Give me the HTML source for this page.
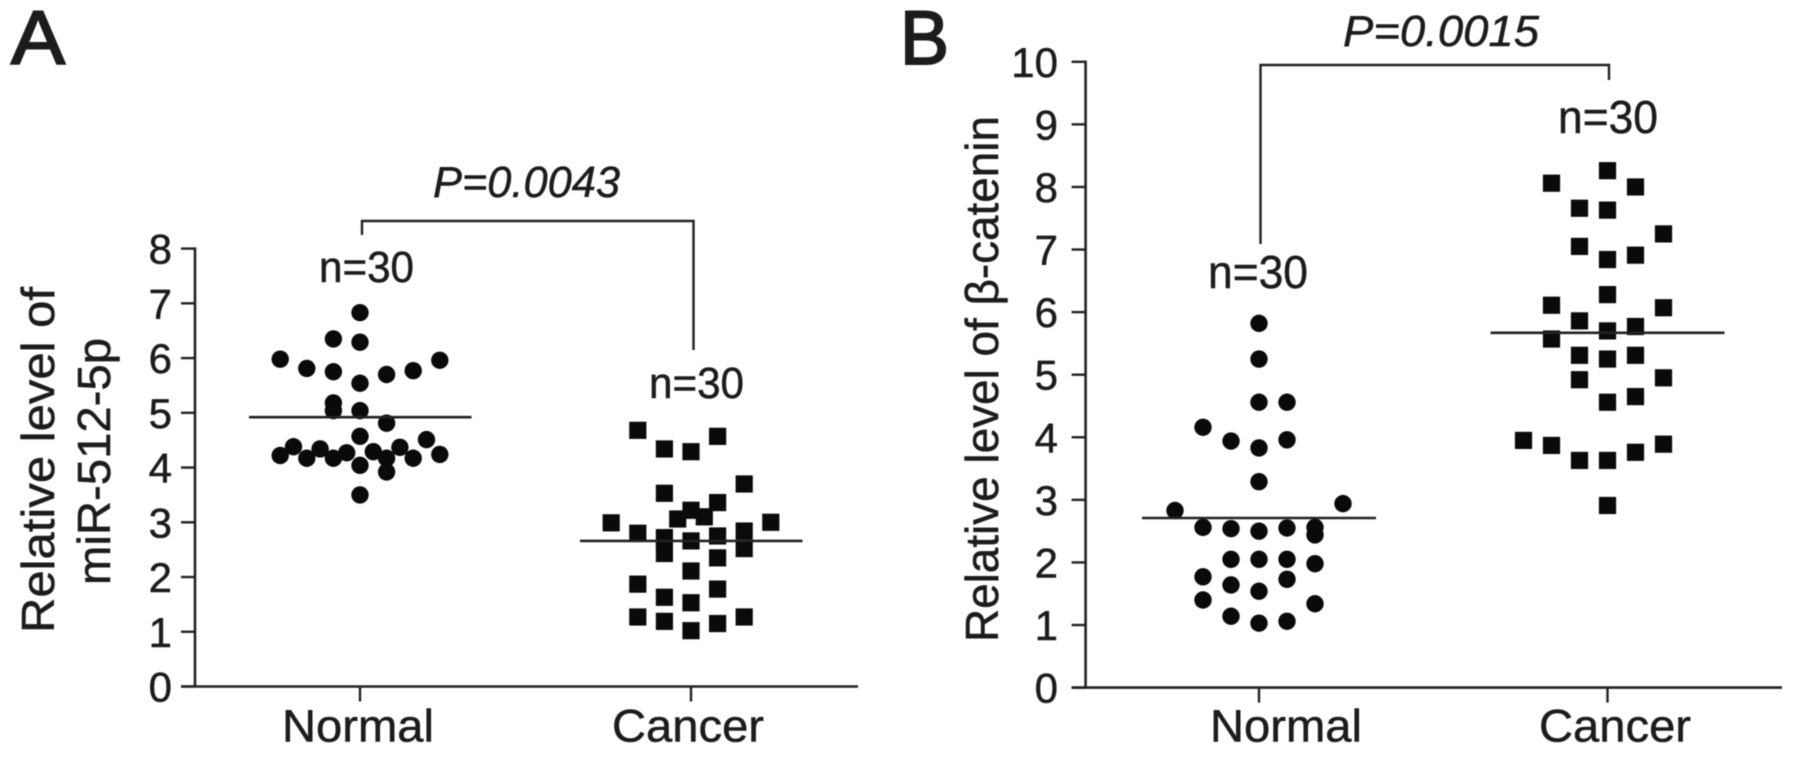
<!DOCTYPE html>
<html lang="en">
<head>
<meta charset="utf-8">
<title>miR-512-5p and β-catenin levels</title>
<style>
html,body{margin:0;padding:0;background:#fff;width:1795px;height:757px;overflow:hidden}
svg{display:block;filter:blur(0.6px)}
text{font-family:"Liberation Sans",sans-serif;fill:#1c1c1c;stroke:#1c1c1c;stroke-width:0.5px}
</style>
</head>
<body>
<svg id="figure" xmlns="http://www.w3.org/2000/svg" width="1795" height="757" viewBox="0 0 1795 757">
  <rect width="1795" height="757" fill="#fff"/>
  <text x="11" y="64" font-size="76" textLength="54" lengthAdjust="spacingAndGlyphs" style="stroke-width:2px">A</text>
  <text x="900" y="64" font-size="76" textLength="49" lengthAdjust="spacingAndGlyphs" style="stroke-width:2px">B</text>

  <text transform="translate(54,633) rotate(-90)" font-size="46" textLength="346" lengthAdjust="spacingAndGlyphs">Relative level of</text>
  <text transform="translate(110,585) rotate(-90)" font-size="46" textLength="247" lengthAdjust="spacingAndGlyphs">miR-512-5p</text>
  <text transform="translate(998,642) rotate(-90)" font-size="46" textLength="526" lengthAdjust="spacingAndGlyphs">Relative level of β-catenin</text>

  <text x="433" y="197" font-size="44" font-style="italic" textLength="187" lengthAdjust="spacingAndGlyphs">P=0.0043</text>
  <text x="1343" y="46" font-size="44" font-style="italic" textLength="196" lengthAdjust="spacingAndGlyphs">P=0.0015</text>

  <text x="319" y="282" font-size="44" textLength="95" lengthAdjust="spacingAndGlyphs">n=30</text>
  <text x="649" y="398" font-size="44" textLength="95" lengthAdjust="spacingAndGlyphs">n=30</text>
  <text x="1208" y="288" font-size="46" textLength="100" lengthAdjust="spacingAndGlyphs">n=30</text>
  <text x="1558" y="133" font-size="46" textLength="100" lengthAdjust="spacingAndGlyphs">n=30</text>

  <polyline points="362,235 362,221 693.5,221 693.5,350" fill="none" stroke="#222" stroke-width="2.4"/>
  <polyline points="1260.5,244 1260.5,65 1609,65 1609,80" fill="none" stroke="#222" stroke-width="2.4"/>

  <g id="panel-a"></g>
  <g id="panel-b"></g>
</svg>
<script>
const categories = ['Normal', 'Cancer'];

const aTicks = [0, 1, 2, 3, 4, 5, 6, 7, 8];
const aNormalValues = [6.83, 6.35, 6.29, 5.98, 5.96, 5.81, 5.75, 5.77, 5.70, 5.54, 5.18, 5.04, 5.04, 4.81, 4.57, 4.51, 4.38, 4.34, 4.27, 4.29, 4.37, 4.22, 4.24, 4.17, 4.17, 4.17, 4.17, 4.04, 3.92, 3.50];
const aNormalJitter = [0, -1, 0, -3, 3, -2, -1, 2, 1, 0, -1, -1, 0, 1, 0, 2.5, -2.5, -1.5, -0.5, 0.5, 1.5, -3, 3, -2, -1, 1, 2, 0, 1, 0];
const aCancerValues = [4.68, 4.57, 4.34, 4.29, 3.70, 3.53, 3.36, 3.22, 3.06, 3.10, 2.99, 3.00, 2.80, 2.84, 2.72, 2.75, 2.66, 2.43, 2.52, 2.35, 2.11, 1.87, 1.78, 1.63, 1.53, 1.27, 1.27, 1.19, 1.15, 1.02];
const aCancerJitter = [-2, 1, -1, 0, 2, -1, 1, 0, -0.5, 0.5, -3, 3, -2, 2, -1, 1, 0, -1, 2, 1, 0, -2, 1, -1, 0, -2, 2, -1, 1, 0];
const aMedians = [4.92, 2.66];

const bTicks = [0, 1, 2, 3, 4, 5, 6, 7, 8, 9, 10];
const bNormalValues = [5.82, 5.25, 4.56, 4.56, 4.16, 3.94, 3.96, 3.83, 3.29, 2.94, 2.83, 2.56, 2.54, 2.50, 2.55, 2.56, 2.44, 2.05, 2.05, 2.05, 1.98, 1.77, 1.73, 1.64, 1.54, 1.40, 1.34, 1.14, 1.06, 1.03];
const bNormalJitter = [0, 0, 0, 1, -2, -1, 1, 0, 0, 3, -3, -2, -1, 0, 1, 2, 2, -1, 0, 1, 2, -2, 1, -1, 0, -2, 2, -1, 1, 0];
const bCancerValues = [8.26, 8.06, 8.00, 7.66, 7.63, 7.25, 7.05, 6.91, 6.84, 6.28, 6.11, 6.07, 5.86, 5.77, 5.70, 5.57, 5.31, 5.31, 5.25, 4.92, 4.95, 4.65, 4.56, 3.95, 3.87, 3.89, 3.76, 3.63, 3.63, 2.91];
const bCancerJitter = [0, -2, 1, -1, 0, 2, -1, 1, 0, 0, -2, 2, -1, 1, 0, -2, -1, 1, 0, -1, 2, 1, 0, -3, -2, 2, 1, -1, 0, 0];
const bMedians = [2.71, 5.67];

const NS = 'http://www.w3.org/2000/svg';
const INK = '#222';

function make(parent, tag, attrs, name) {
  const el = document.createElementNS(NS, tag);
  for (const k in attrs) el.setAttribute(k, attrs[k]);
  
  
  parent.appendChild(el);
  return el;
}

function drawPanel(cfg) {
  const g = document.getElementById(cfg.id);
  const maxTick = cfg.ticks[cfg.ticks.length - 1];
  const yScale = v => cfg.y0 + (cfg.yMax - cfg.y0) * v / maxTick;
  const xScale = i => cfg.catX0 + (cfg.catX1 - cfg.catX0) * i;
  const jitter = (i, j) => xScale(i) + j * cfg.step;

  make(g, 'line', {x1: cfg.axisX, x2: cfg.axisX, y1: yScale(0), y2: yScale(maxTick) - 1.2, stroke: INK, 'stroke-width': 2.6}, 'y-axis');
  make(g, 'line', {x1: cfg.axisX - 14, x2: cfg.xEnd, y1: yScale(0), y2: yScale(0), stroke: INK, 'stroke-width': 2.6}, 'x-axis');

  cfg.ticks.forEach(t => {
    make(g, 'line', {x1: cfg.axisX - 14, x2: cfg.axisX, y1: yScale(t), y2: yScale(t), stroke: INK, 'stroke-width': 2.4}, 'y-tick-' + t);
    const label = make(g, 'text', {x: cfg.labelX, y: yScale(t) + 15, 'font-size': 42, 'text-anchor': 'end'}, 'y-tick-label-' + t);
    label.textContent = t;
  });

  categories.forEach((c, i) => {
    make(g, 'line', {x1: xScale(i), x2: xScale(i), y1: yScale(0), y2: yScale(0) + 15, stroke: INK, 'stroke-width': 2.4}, 'x-tick-' + c.toLowerCase());
    const label = make(g, 'text', {x: cfg.catLabelX[i], y: 741.5, 'font-size': 45, textLength: 152, lengthAdjust: 'spacingAndGlyphs'}, 'x-tick-label-' + c.toLowerCase());
    label.textContent = c;
  });

  cfg.normal.forEach((v, k) => {
    make(g, 'circle', {cx: jitter(0, cfg.normalJitter[k]), cy: yScale(v), r: 8.7, fill: '#0a0a0a'}, 'normal-point');
  });
  cfg.cancer.forEach((v, k) => {
    make(g, 'rect', {x: jitter(1, cfg.cancerJitter[k]) - 8.6, y: yScale(v) - 8.6, width: 17.2, height: 17.2, fill: '#0a0a0a'}, 'cancer-point');
  });

  cfg.medians.forEach((m, i) => {
    const c = categories[i].toLowerCase();
    make(g, 'line', {x1: xScale(i) + cfg.medianLeft, x2: xScale(i) + cfg.medianRight, y1: yScale(m), y2: yScale(m), stroke: INK, 'stroke-width': 2.6}, c + '-median-line');
  });
}

drawPanel({
  id: 'panel-a', ticks: aTicks, y0: 686.5, yMax: 248.6, axisX: 195, xEnd: 858, labelX: 172,
  catX0: 360, catX1: 691, step: 26.6, catLabelX: [282, 612],
  normal: aNormalValues, normalJitter: aNormalJitter,
  cancer: aCancerValues, cancerJitter: aCancerJitter,
  medians: aMedians, medianLeft: -111, medianRight: 111.5
});

drawPanel({
  id: 'panel-b', ticks: bTicks, y0: 687.6, yMax: 61.8, axisX: 1085.6, xEnd: 1782, labelX: 1058,
  catX0: 1259, catX1: 1607.5, step: 28, catLabelX: [1210, 1539],
  normal: bNormalValues, normalJitter: bNormalJitter,
  cancer: bCancerValues, cancerJitter: bCancerJitter,
  medians: bMedians, medianLeft: -117, medianRight: 117
});
</script>
</body>
</html>
